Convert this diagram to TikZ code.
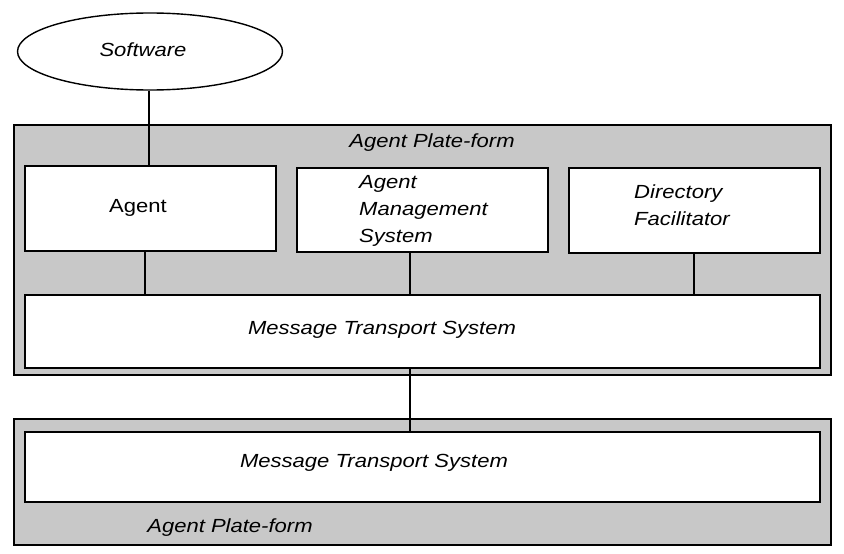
\documentclass[tikz,border=0pt]{standalone}
\usepackage{fontspec}
\setmainfont{Liberation Sans}[FakeStretch=1.16]
\usetikzlibrary{shapes.geometric}
\definecolor{platgray}{RGB}{200,200,200}
\begin{document}
\begin{tikzpicture}[x=1pt,y=-1pt,
  every node/.style={font=\fontsize{19}{27}\selectfont},
  plat/.style={draw=black, line width=1.6pt, fill=platgray, rectangle, inner sep=0pt},
  box/.style={draw=black, line width=1.6pt, fill=white, rectangle, inner sep=0pt},
  conn/.style={draw=black, line width=1.4pt},
  lbl/.style={inner sep=0pt, font=\fontsize{19}{27}\selectfont\itshape},
]
\useasboundingbox[fill=white] (0,0) rectangle (844,554);
% platforms
\node[plat, minimum width=817pt, minimum height=250pt] (plat1) at (422.5,250) {};
\node[plat, minimum width=817pt, minimum height=126pt] (plat2) at (422.5,482) {};
% software
\node[draw=black, line width=1.4pt, fill=white, ellipse, minimum width=265pt, minimum height=77pt, inner sep=0pt] (software) at (150,51.5) {};
% boxes
\node[box, minimum width=251pt, minimum height=85pt] (agent) at (150.5,208.5) {};
\node[box, minimum width=251pt, minimum height=84pt] (ams) at (422.5,210) {};
\node[box, minimum width=251pt, minimum height=85pt] (df) at (694.5,210.5) {};
\node[box, minimum width=795pt, minimum height=73pt] (mts1) at (422.5,331.5) {};
\node[box, minimum width=795pt, minimum height=70pt] (mts2) at (422.5,467) {};
% connector x positions
\coordinate (xs) at (149,0);
\coordinate (xa) at (145,0);
\coordinate (xm) at (410,0);
\coordinate (xd) at (694,0);
\draw[conn] (software.south -| xs) -- (agent.north -| xs);
\draw[conn] (agent.south -| xa) -- (mts1.north -| xa);
\draw[conn] (ams.south -| xm) -- (mts1.north -| xm);
\draw[conn] (df.south -| xd) -- (mts1.north -| xd);
\draw[conn] (mts1.south -| xm) -- (mts2.north -| xm);
% texts
\node[lbl] (tsoft) at (143,50) {Software};
\node[lbl] (tplat1) at (432,143) {Agent Plate-form};
\node[inner sep=0pt] (tagent) at (138,208) {Agent};
\node[lbl, anchor=west, align=left] (tams) at (359,211) {Agent\\Management\\System};
\node[lbl, anchor=west, align=left] (tdf) at (634,205) {Directory\\Facilitator};
\node[lbl] (tmts1) at (382,330) {Message Transport System};
\node[lbl] (tmts2) at (374,463) {Message Transport System};
\node[lbl] (tplat2) at (230,528) {Agent Plate-form};
\end{tikzpicture}
\end{document}
